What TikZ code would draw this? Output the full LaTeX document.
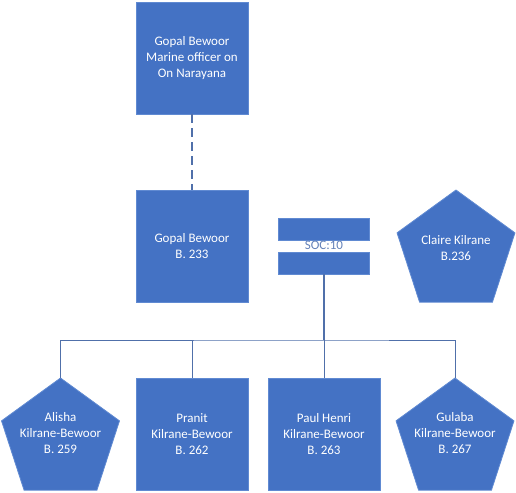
\documentclass[tikz,border=0pt]{standalone}
\usepackage{fontspec}
\setmainfont{Carlito}
\usepackage{tikz}
\usetikzlibrary{shapes.geometric}
\definecolor{famblue}{RGB}{68, 114, 196}
\definecolor{famedge}{RGB}{96, 138, 210}
\definecolor{famline}{RGB}{80, 112, 170}
\definecolor{famtext}{RGB}{100, 130, 185}

\begin{document}
\begin{tikzpicture}[x=1pt, y=-1pt,
  font=\fontsize{13}{16}\selectfont,
  man/.style={rectangle, draw=famedge, fill=famblue, line width=0.8pt, text=white, align=center, minimum width=112pt, minimum height=112pt, inner sep=0pt},
  woman/.style={regular polygon, regular polygon sides=5, draw=famedge, fill=famblue, line width=0.8pt, minimum size=124pt, inner sep=0pt},
  pentext/.style={text=white, align=center, yshift=7pt},
  bar/.style={rectangle, draw=famedge, fill=famblue, line width=0.8pt, minimum width=91pt, minimum height=22pt, inner sep=0pt},
  link/.style={draw=famline, line width=0.8pt}]
\useasboundingbox (0,0) rectangle (516,492);

% Nodes
\node[man] (father) at (192,58) {Gopal Bewoor\\Marine officer on\\On Narayana};
\node[man] (gopal) at (192,246) {Gopal Bewoor\\B. 233};
\node[woman, label={[pentext, yshift=-3pt]center:{Claire Kilrane\\B.236}}] (claire) at (456,252) {};

% Marriage
\node[bar] (socA) at (324,229) {};
\node[bar] (socB) at (324,263) {};
\node[text=famtext] (soc) at (324,245.5) {SOC:10};

% Children
\node[woman, label={[pentext]center:{Alisha\\Kilrane-Bewoor\\B. 259}}] (alisha) at (60.5,440) {};
\node[man] (pranit) at (192,434) {Pranit\\Kilrane-Bewoor\\B. 262};
\node[man] (paul) at (324,434) {Paul Henri\\Kilrane-Bewoor\\B. 263};
\node[woman, label={[pentext]center:{Gulaba\\Kilrane-Bewoor\\B. 267}}] (gulaba) at (455,440) {};
\coordinate (bus) at (324,340);

% Edges
\draw[link, dash pattern=on 9pt off 5pt, line width=1.2pt] (father) -- (gopal);
\draw[link, line width=1.6pt] (socB) -- (bus);
\draw[link] (alisha.north) |- (bus) -| (gulaba.north);
\draw[link] (pranit.north) -- (pranit.north |- bus);
\draw[link] (paul.north) -- (paul.north |- bus);

\end{tikzpicture}
\end{document}
